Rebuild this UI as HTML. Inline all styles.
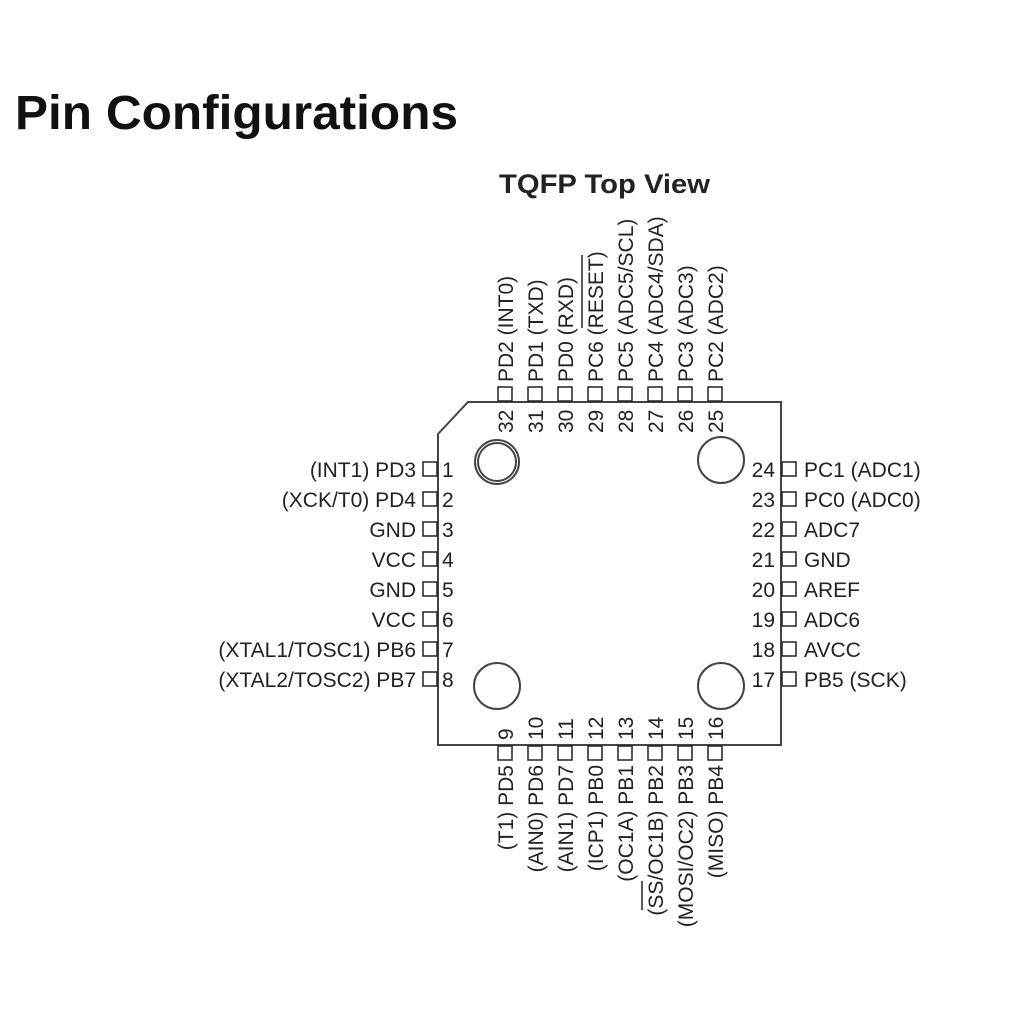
<!DOCTYPE html>
<html><head><meta charset="utf-8"><style>html,body{margin:0;padding:0;background:#fff;}svg{display:block}</style></head>
<body>
<svg width="1024" height="1024" viewBox="0 0 1024 1024" xmlns="http://www.w3.org/2000/svg" font-family="Liberation Sans, Arial, sans-serif" fill="#111">
<text x="15" y="129" font-size="48" font-weight="bold" textLength="443" lengthAdjust="spacingAndGlyphs">Pin Configurations</text>
<text x="499" y="193" font-size="27" font-weight="bold" fill="#222" textLength="211" lengthAdjust="spacingAndGlyphs">TQFP Top View</text>
<g fill="none" stroke="#444" stroke-width="2">
<path d="M468,402 L781,402 L781,745 L438,745 L438,434 Z"/>
<circle cx="497" cy="462" r="22"/><circle cx="497" cy="462" r="19"/>
<circle cx="721" cy="460" r="23"/>
<circle cx="497" cy="686" r="23"/>
<circle cx="721" cy="686" r="23"/>
</g>
<g fill="none" stroke="#222" stroke-width="1.5">
<rect x="423" y="462" width="14" height="14"/><rect x="423" y="492" width="14" height="14"/><rect x="423" y="522" width="14" height="14"/><rect x="423" y="552" width="14" height="14"/><rect x="423" y="582" width="14" height="14"/><rect x="423" y="612" width="14" height="14"/><rect x="423" y="642" width="14" height="14"/><rect x="423" y="672" width="14" height="14"/>
<rect x="782" y="462" width="14" height="14"/><rect x="782" y="492" width="14" height="14"/><rect x="782" y="522" width="14" height="14"/><rect x="782" y="552" width="14" height="14"/><rect x="782" y="582" width="14" height="14"/><rect x="782" y="612" width="14" height="14"/><rect x="782" y="642" width="14" height="14"/><rect x="782" y="672" width="14" height="14"/>
<rect x="498" y="387" width="14" height="14"/><rect x="528" y="387" width="14" height="14"/><rect x="558" y="387" width="14" height="14"/><rect x="588" y="387" width="14" height="14"/><rect x="618" y="387" width="14" height="14"/><rect x="648" y="387" width="14" height="14"/><rect x="678" y="387" width="14" height="14"/><rect x="708" y="387" width="14" height="14"/>
<rect x="498" y="746" width="14" height="14"/><rect x="528" y="746" width="14" height="14"/><rect x="558" y="746" width="14" height="14"/><rect x="588" y="746" width="14" height="14"/><rect x="618" y="746" width="14" height="14"/><rect x="648" y="746" width="14" height="14"/><rect x="678" y="746" width="14" height="14"/><rect x="708" y="746" width="14" height="14"/>
</g>
<g font-size="21" fill="#222">
<g text-anchor="end">
<text x="416" y="477">(INT1) PD3</text><text x="416" y="507">(XCK/T0) PD4</text><text x="416" y="537">GND</text><text x="416" y="567">VCC</text><text x="416" y="597">GND</text><text x="416" y="627">VCC</text><text x="416" y="657">(XTAL1/TOSC1) PB6</text><text x="416" y="687">(XTAL2/TOSC2) PB7</text>
<text x="775" y="477">24</text><text x="775" y="507">23</text><text x="775" y="537">22</text><text x="775" y="567">21</text><text x="775" y="597">20</text><text x="775" y="627">19</text><text x="775" y="657">18</text><text x="775" y="687">17</text>
</g>
<text x="442" y="477">1</text><text x="442" y="507">2</text><text x="442" y="537">3</text><text x="442" y="567">4</text><text x="442" y="597">5</text><text x="442" y="627">6</text><text x="442" y="657">7</text><text x="442" y="687">8</text>
<text x="804" y="477">PC1 (ADC1)</text><text x="804" y="507">PC0 (ADC0)</text><text x="804" y="537">ADC7</text><text x="804" y="567">GND</text><text x="804" y="597">AREF</text><text x="804" y="627">ADC6</text><text x="804" y="657">AVCC</text><text x="804" y="687">PB5 (SCK)</text>
<text transform="translate(513,382) rotate(-90)">PD2 (INT0)</text>
<text transform="translate(543,382) rotate(-90)">PD1 (TXD)</text>
<text transform="translate(573,382) rotate(-90)">PD0 (RXD)</text>
<text transform="translate(603,382) rotate(-90)">PC6 (RESET)</text>
<text transform="translate(633,382) rotate(-90)">PC5 (ADC5/SCL)</text>
<text transform="translate(663,382) rotate(-90)">PC4 (ADC4/SDA)</text>
<text transform="translate(693,382) rotate(-90)">PC3 (ADC3)</text>
<text transform="translate(723,382) rotate(-90)">PC2 (ADC2)</text>
<text transform="translate(513,433) rotate(-90)">32</text>
<text transform="translate(543,433) rotate(-90)">31</text>
<text transform="translate(573,433) rotate(-90)">30</text>
<text transform="translate(603,433) rotate(-90)">29</text>
<text transform="translate(633,433) rotate(-90)">28</text>
<text transform="translate(663,433) rotate(-90)">27</text>
<text transform="translate(693,433) rotate(-90)">26</text>
<text transform="translate(723,433) rotate(-90)">25</text>
<text transform="translate(513,740) rotate(-90)">9</text>
<text transform="translate(543,740) rotate(-90)">10</text>
<text transform="translate(573,740) rotate(-90)">11</text>
<text transform="translate(603,740) rotate(-90)">12</text>
<text transform="translate(633,740) rotate(-90)">13</text>
<text transform="translate(663,740) rotate(-90)">14</text>
<text transform="translate(693,740) rotate(-90)">15</text>
<text transform="translate(723,740) rotate(-90)">16</text>
<g text-anchor="end">
<text transform="translate(513,765) rotate(-90)">(T1) PD5</text>
<text transform="translate(543,765) rotate(-90)">(AIN0) PD6</text>
<text transform="translate(573,765) rotate(-90)">(AIN1) PD7</text>
<text transform="translate(603,765) rotate(-90)">(ICP1) PB0</text>
<text transform="translate(633,765) rotate(-90)">(OC1A) PB1</text>
<text transform="translate(663,765) rotate(-90)">(SS/OC1B) PB2</text>
<text transform="translate(693,765) rotate(-90)">(MOSI/OC2) PB3</text>
<text transform="translate(723,765) rotate(-90)">(MISO) PB4</text>
</g>
</g>
<g stroke="#222" stroke-width="1.5">
<line x1="582" y1="255" x2="582" y2="328"/>
<line x1="642" y1="881" x2="642" y2="910"/>
</g>
</svg>
</body></html>
